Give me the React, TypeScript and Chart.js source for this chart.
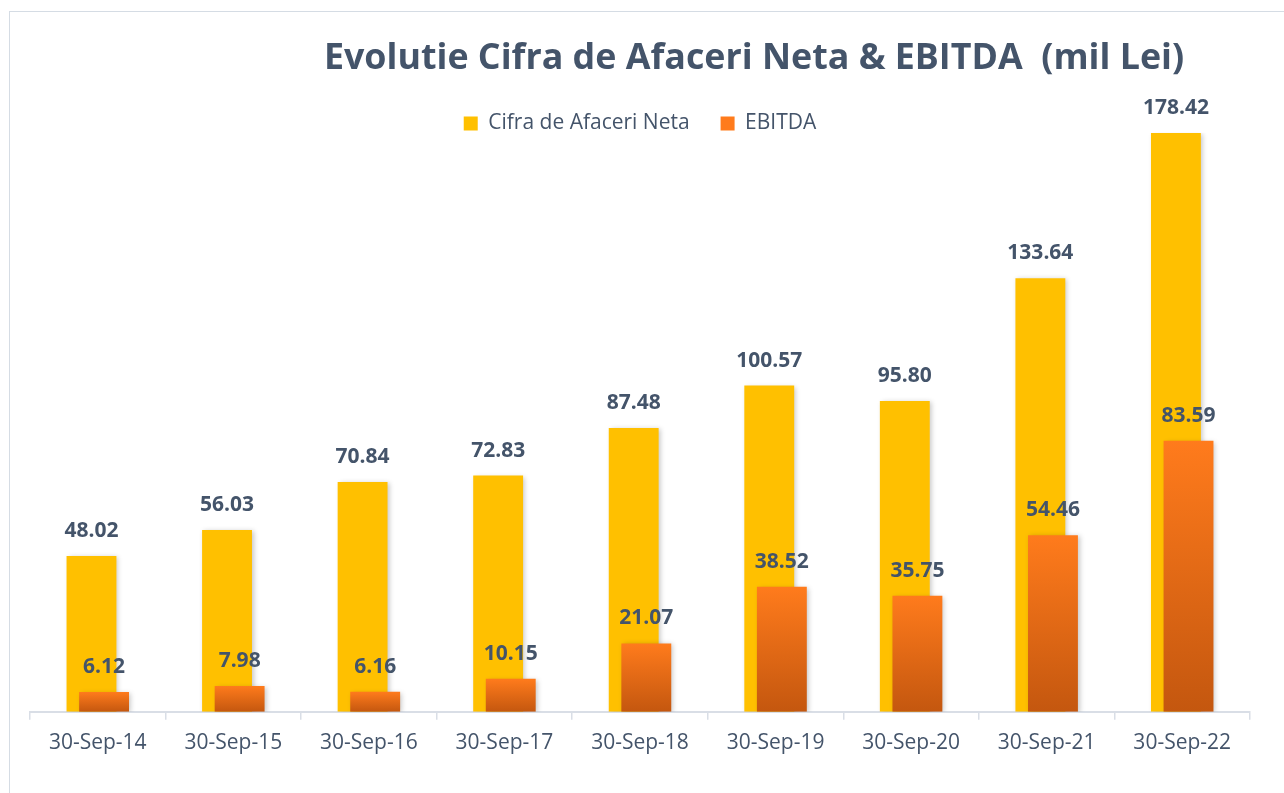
import React, { useEffect, useRef } from 'react';
import { Chart, registerables } from 'chart.js';

Chart.register(...registerables);

const categories = [
  '30-Sep-14', '30-Sep-15', '30-Sep-16', '30-Sep-17', '30-Sep-18',
  '30-Sep-19', '30-Sep-20', '30-Sep-21', '30-Sep-22',
];
const cifraValues = [48.02, 56.03, 70.84, 72.83, 87.48, 100.57, 95.8, 133.64, 178.42];
const ebitdaValues = [6.12, 7.98, 6.16, 10.15, 21.07, 38.52, 35.75, 54.46, 83.59];
const seriesNames = ['Cifra de Afaceri Neta', 'EBITDA'];
const titleText = 'Evolutie Cifra de Afaceri Neta & EBITDA  (mil Lei)';
const yMax = 178.5;

const TEXT = '#44546A';
const AXIS = '#D9DEE6';
const FONT = "'Open Sans', sans-serif";
const CANVAS_W = 1478;
const CANVAS_H = 793;

export default function App() {
  const ref = useRef<HTMLCanvasElement>(null);

  useEffect(() => {
    const canvas = ref.current;
    if (!canvas) return;

    const shifts = [-6.3, 6.3];
    const shiftPlugin = {
      id: 'barShift',
      afterDatasetsUpdate(chart: any) {
        chart.data.datasets.forEach((_: any, i: number) => {
          chart.getDatasetMeta(i).data.forEach((el: any) => {
            el.x += shifts[i];
          });
        });
      },
    };

    const shadowPlugin = {
      id: 'barShadow',
      beforeDatasetDraw(chart: any) {
        const c = chart.ctx;
        c.save();
        c.shadowColor = 'rgba(0,0,0,0.22)';
        c.shadowBlur = 5;
        c.shadowOffsetX = 2;
        c.shadowOffsetY = 1;
      },
      afterDatasetDraw(chart: any) {
        chart.ctx.restore();
      },
    };

    const valueLabels = {
      id: 'valueLabels',
      afterDatasetsDraw(chart: any) {
        const c = chart.ctx;
        c.save();
        c.font = `bold 21px ${FONT}`;
        c.fillStyle = TEXT;
        c.textAlign = 'center';
        c.textBaseline = 'middle';
        chart.data.datasets.forEach((ds: any, i: number) => {
          chart.getDatasetMeta(i).data.forEach((el: any, j: number) => {
            c.fillText(Number(ds.data[j]).toFixed(2), el.x, el.y - 25);
          });
        });
        c.restore();
      },
    };

    const orangeFill = (context: any) => {
      const chart = context.chart;
      const y = chart.scales && chart.scales.y;
      if (!y || context.type !== 'data') return '#EE7019';
      const top = y.getPixelForValue(context.raw);
      const bottom = y.getPixelForValue(0);
      if (!isFinite(top) || !isFinite(bottom) || bottom - top < 1) return '#EE7019';
      const g = chart.ctx.createLinearGradient(0, top, 0, bottom);
      g.addColorStop(0, '#FF7B1C');
      g.addColorStop(1, '#C4570F');
      return g;
    };

    const chart = new Chart(canvas, {
      type: 'bar',
      data: {
        labels: categories,
        datasets: [
          {
            label: seriesNames[0],
            data: cifraValues,
            backgroundColor: '#FFC000',
            borderWidth: 0,
            grouped: false,
            order: 1,
            barPercentage: 0.368,
            categoryPercentage: 1,
          },
          {
            label: seriesNames[1],
            data: ebitdaValues,
            backgroundColor: orangeFill,
            borderWidth: 0,
            grouped: false,
            order: 0,
            barPercentage: 0.368,
            categoryPercentage: 1,
          },
        ],
      },
      options: {
        responsive: false,
        animation: false,
        layout: { padding: { left: 30, right: 0, top: 0, bottom: 26 } },
        plugins: {
          title: {
            display: true,
            text: titleText,
            color: TEXT,
            font: { family: FONT, size: 35.8, weight: 'bold' },
            padding: { top: 37, bottom: 2 },
          },
          legend: {
            position: 'top',
            align: 'center',
            fullSize: false,
            maxHeight: 50.8,
            labels: {
              color: TEXT,
              font: { family: FONT, size: 21 },
              boxWidth: 14,
              boxHeight: 14,
              padding: 31,
              sort: (a: any, b: any) => a.datasetIndex - b.datasetIndex,
            },
          },
          tooltip: { enabled: false },
        },
        scales: {
          x: {
            grid: {
              display: true,
              drawOnChartArea: false,
              drawTicks: true,
              tickLength: 8,
              color: AXIS,
              lineWidth: 1.5,
              offset: true,
            },
            border: { display: true, color: AXIS, width: 2 },
            ticks: {
              color: TEXT,
              font: { family: FONT, size: 21 },
              padding: 11,
              maxRotation: 0,
              autoSkip: false,
            },
          },
          y: {
            position: 'right',
            min: 0,
            max: yMax,
            display: true,
            ticks: { display: false },
            grid: { display: false },
            border: { display: false },
            afterFit: (s: any) => {
              s.width = 228;
            },
          },
        },
      } as any,
      plugins: [shiftPlugin, shadowPlugin, valueLabels],
    });

    return () => chart.destroy();
  }, []);

  return (
    <div
      style={{
        position: 'absolute',
        left: 0,
        top: 0,
        width: 1284,
        height: 793,
        overflow: 'hidden',
        background: '#fff',
      }}
    >
      <div
        style={{
          position: 'absolute',
          left: 9,
          top: 11,
          width: 1400,
          height: 900,
          border: '1px solid #D5DCE4',
        }}
      />
      <canvas
        ref={ref}
        width={CANVAS_W}
        height={CANVAS_H}
        style={{ position: 'absolute', left: 0, top: 0 }}
      />
    </div>
  );
}
